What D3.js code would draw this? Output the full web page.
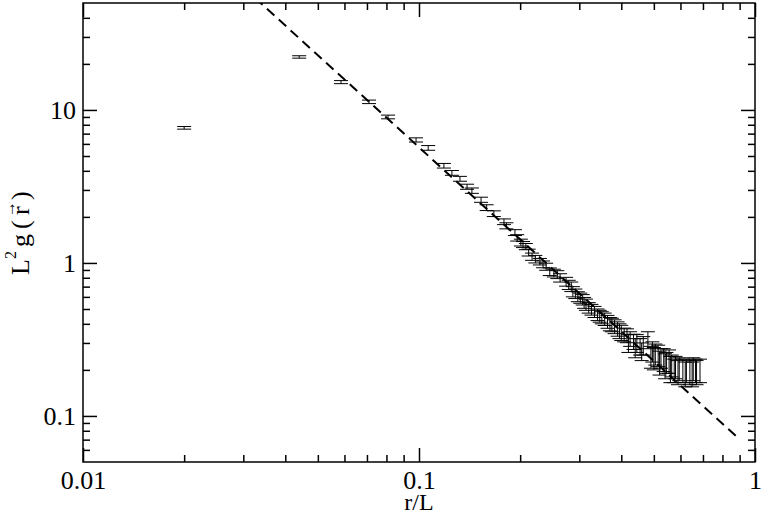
<!DOCTYPE html>
<html>
<head>
<meta charset="utf-8">
<script src="https://cdn.jsdelivr.net/npm/d3@7"></script>
<style>
  body { margin: 0; background: #fff; }
  svg { display: block; font-family: "Liberation Serif", "Times New Roman", serif; }
</style>
</head>
<body>
<svg></svg>
<script>
// r/L values, L^2 g(r) values and error bars
const rVals = [
  0.0200, 0.0440, 0.0586, 0.0710, 0.0809, 0.0980, 0.1065, 0.1186, 0.1253, 0.1324,
  0.1390, 0.1437, 0.1530, 0.1590, 0.1670, 0.1790, 0.1820, 0.1930, 0.1960, 0.2010,
  0.2040, 0.2080, 0.2120, 0.2170, 0.2220, 0.2290, 0.2340, 0.2390, 0.2450, 0.2520,
  0.2580, 0.2630, 0.2740, 0.2790, 0.2840, 0.2870, 0.2920, 0.2970, 0.3020, 0.3070,
  0.3100, 0.3140, 0.3200, 0.3260, 0.3330, 0.3400, 0.3450, 0.3500, 0.3570, 0.3640,
  0.3700, 0.3750, 0.3820, 0.3900, 0.3950, 0.4000, 0.4080, 0.4160, 0.4200, 0.4250,
  0.4350, 0.4400, 0.4450, 0.4550, 0.4600, 0.4650, 0.4800, 0.4900, 0.4950, 0.5000,
  0.5050, 0.5150, 0.5200, 0.5250, 0.5350, 0.5400, 0.5450, 0.5550, 0.5600, 0.5650,
  0.5750, 0.5800, 0.5900, 0.5950, 0.6100, 0.6200, 0.6250, 0.6400, 0.6500, 0.6550,
  0.6650, 0.6700, 0.6860];
const gVals = [
  7.64, 22.2, 15.2, 11.3, 9.0, 6.37, 5.65, 4.32, 3.88, 3.55,
  3.15, 2.97, 2.59, 2.30, 2.10, 1.86, 1.75, 1.58, 1.46, 1.36,
  1.32, 1.28, 1.17, 1.10, 1.06, 1.02, 0.98, 0.946, 0.877, 0.86,
  0.84, 0.80, 0.755, 0.72, 0.70, 0.65, 0.63, 0.603, 0.59, 0.576,
  0.55, 0.535, 0.51, 0.496, 0.48, 0.46, 0.45, 0.44, 0.43, 0.414,
  0.40, 0.395, 0.385, 0.372, 0.36, 0.351, 0.34, 0.336, 0.30, 0.32,
  0.307, 0.28, 0.30, 0.285, 0.265, 0.29, 0.315, 0.245, 0.265, 0.24,
  0.255, 0.25, 0.225, 0.24, 0.235, 0.215, 0.225, 0.23, 0.205, 0.215,
  0.20, 0.21, 0.195, 0.205, 0.20, 0.19, 0.20, 0.195, 0.19, 0.205,
  0.20, 0.195, 0.20];
const errVals = [
  0.15, 0.4, 0.35, 0.3, 0.25, 0.2, 0.2, 0.15, 0.14, 0.13,
  0.12, 0.12, 0.10, 0.10, 0.09, 0.08, 0.08, 0.07, 0.07, 0.07,
  0.06, 0.06, 0.06, 0.06, 0.06, 0.05, 0.05, 0.05, 0.05, 0.05,
  0.05, 0.05, 0.05, 0.05, 0.05, 0.05, 0.045, 0.045, 0.045, 0.045,
  0.045, 0.045, 0.04, 0.04, 0.04, 0.04, 0.04, 0.04, 0.04, 0.04,
  0.04, 0.04, 0.04, 0.04, 0.04, 0.04, 0.035, 0.035, 0.04, 0.035,
  0.035, 0.04, 0.04, 0.035, 0.035, 0.04, 0.04, 0.04, 0.04, 0.04,
  0.04, 0.04, 0.04, 0.035, 0.04, 0.04, 0.035, 0.04, 0.04, 0.035,
  0.035, 0.035, 0.035, 0.035, 0.035, 0.035, 0.035, 0.035, 0.035, 0.035,
  0.035, 0.035, 0.035];

// dashed guide: A * (r/L)^-2
const fitA = 0.057;
const fitExp = -2;
const fitRange = [0.03, 0.9];

const xTickVals = [0.01, 0.1, 1];
const xTickLabels = ["0.01", "0.1", "1"];
const yTickVals = [0.1, 1, 10];
const yTickLabels = ["0.1", "1", "10"];

const margin = { t: 3, r: 8, b: 54, l: 83 };
const size = { w: 763, h: 516 };
const w = size.w - margin.l - margin.r;
const h = size.h - margin.t - margin.b;
const serif = '"Liberation Serif", "Times New Roman", serif';

const svg = d3.select("svg").attr("width", size.w).attr("height", size.h);
const g = svg.append("g").attr("transform", `translate(${margin.l},${margin.t})`);

const x = d3.scaleLog().domain([0.01, 1]).range([0, w]);
const y = d3.scaleLog().domain([0.05, 50]).range([h, 0]);

const data = rVals.map((r, i) => ({ r: r, v: gVals[i], e: errVals[i] }));

svg.append("defs").append("clipPath").attr("id", "plot-clip")
  .append("rect").attr("width", w).attr("height", h);

// ---- minor & major ticks on all four sides ----
const notEdge = (s) => (d) => {
  const [a, b] = s.domain();
  return Math.abs(d - a) / a > 1e-6 && Math.abs(d - b) / b > 1e-6;
};
const isMajor = (vals) => (d) => vals.some((m) => Math.abs(d - m) / m < 1e-6);
const xMinor = x.ticks().filter((d) => !isMajor(xTickVals)(d)).filter(notEdge(x));
const yMinor = y.ticks().filter((d) => !isMajor(yTickVals)(d)).filter(notEdge(y));

function styleAxis(sel) {
  sel.attr("font-family", null).attr("font-size", null);
  sel.select(".domain").remove();
  sel.selectAll("line").attr("stroke", "#000").attr("stroke-width", 1.5);
  sel.selectAll("text").attr("fill", "#000").style("font-size", "26px")
    .style("font-family", serif);
}

const fmtX = (d) => xTickLabels[xTickVals.indexOf(d)];
const fmtY = (d) => yTickLabels[yTickVals.indexOf(d)];

g.append("g").attr("transform", `translate(0,${h})`)
  .call(d3.axisBottom(x).tickValues(xTickVals).tickFormat(fmtX).tickSizeInner(-14).tickSizeOuter(0).tickPadding(9))
  .call(styleAxis);
g.append("g").attr("transform", `translate(0,${h})`)
  .call(d3.axisBottom(x).tickValues(xMinor).tickFormat("").tickSizeInner(-7).tickSizeOuter(0))
  .call(styleAxis);
g.append("g")
  .call(d3.axisTop(x).tickValues(xTickVals).tickFormat("").tickSizeInner(-14).tickSizeOuter(0))
  .call(styleAxis);
g.append("g")
  .call(d3.axisTop(x).tickValues(xMinor).tickFormat("").tickSizeInner(-7).tickSizeOuter(0))
  .call(styleAxis);

g.append("g")
  .call(d3.axisLeft(y).tickValues(yTickVals).tickFormat(fmtY).tickSizeInner(-14).tickSizeOuter(0).tickPadding(7))
  .call(styleAxis);
g.append("g")
  .call(d3.axisLeft(y).tickValues(yMinor).tickFormat("").tickSizeInner(-7).tickSizeOuter(0))
  .call(styleAxis);
g.append("g").attr("transform", `translate(${w},0)`)
  .call(d3.axisRight(y).tickValues(yTickVals).tickFormat("").tickSizeInner(-14).tickSizeOuter(0))
  .call(styleAxis);
g.append("g").attr("transform", `translate(${w},0)`)
  .call(d3.axisRight(y).tickValues(yMinor).tickFormat("").tickSizeInner(-7).tickSizeOuter(0))
  .call(styleAxis);

// frame
g.append("rect").attr("width", w).attr("height", h)
  .attr("fill", "none").attr("stroke", "#000").attr("stroke-width", 1.5);

// ---- dashed power-law line ----
const plotG = g.append("g").attr("clip-path", "url(#plot-clip)");
const fitPts = fitRange.map((r) => [r, fitA * Math.pow(r, fitExp)]);
plotG.append("path")
  .attr("d", d3.line().x((d) => x(d[0])).y((d) => y(d[1]))(fitPts))
  .attr("fill", "none").attr("stroke", "#000").attr("stroke-width", 2)
  .attr("stroke-dasharray", "10,6");

// ---- error bars ----
const capW = 7;
const bars = plotG.selectAll("g.bar").data(data).join("g").classed("bar", true)
  .attr("stroke", "#000").attr("stroke-width", 1);
bars.append("line")
  .attr("x1", (d) => x(d.r)).attr("x2", (d) => x(d.r))
  .attr("y1", (d) => y(d.v - d.e)).attr("y2", (d) => y(d.v + d.e));
bars.append("line")
  .attr("x1", (d) => x(d.r) - capW).attr("x2", (d) => x(d.r) + capW)
  .attr("y1", (d) => y(d.v + d.e)).attr("y2", (d) => y(d.v + d.e));
bars.append("line")
  .attr("x1", (d) => x(d.r) - capW).attr("x2", (d) => x(d.r) + capW)
  .attr("y1", (d) => y(d.v - d.e)).attr("y2", (d) => y(d.v - d.e));

// ---- axis labels ----
svg.append("text")
  .attr("x", margin.l + x(0.1)).attr("y", 510)
  .attr("text-anchor", "middle").style("font-size", "24px")
  .text("r/L");

const yl = svg.append("g").attr("transform", "translate(29,275) rotate(-90)")
  .style("font-size", "26px");
yl.append("text").attr("x", 0).attr("y", 0).text("L");
yl.append("text").attr("x", 16).attr("y", -13).style("font-size", "16px").text("2");
yl.append("text").attr("x", 28).attr("y", 0).text("g");
yl.append("text").attr("x", 46).attr("y", 0).text("(");
yl.append("text").attr("x", 60).attr("y", 0).text("r");
yl.append("text").attr("x", 58).attr("y", -14).style("font-size", "16px").text("\u2192");
yl.append("text").attr("x", 75).attr("y", 0).text(")");
</script>
</body>
</html>
